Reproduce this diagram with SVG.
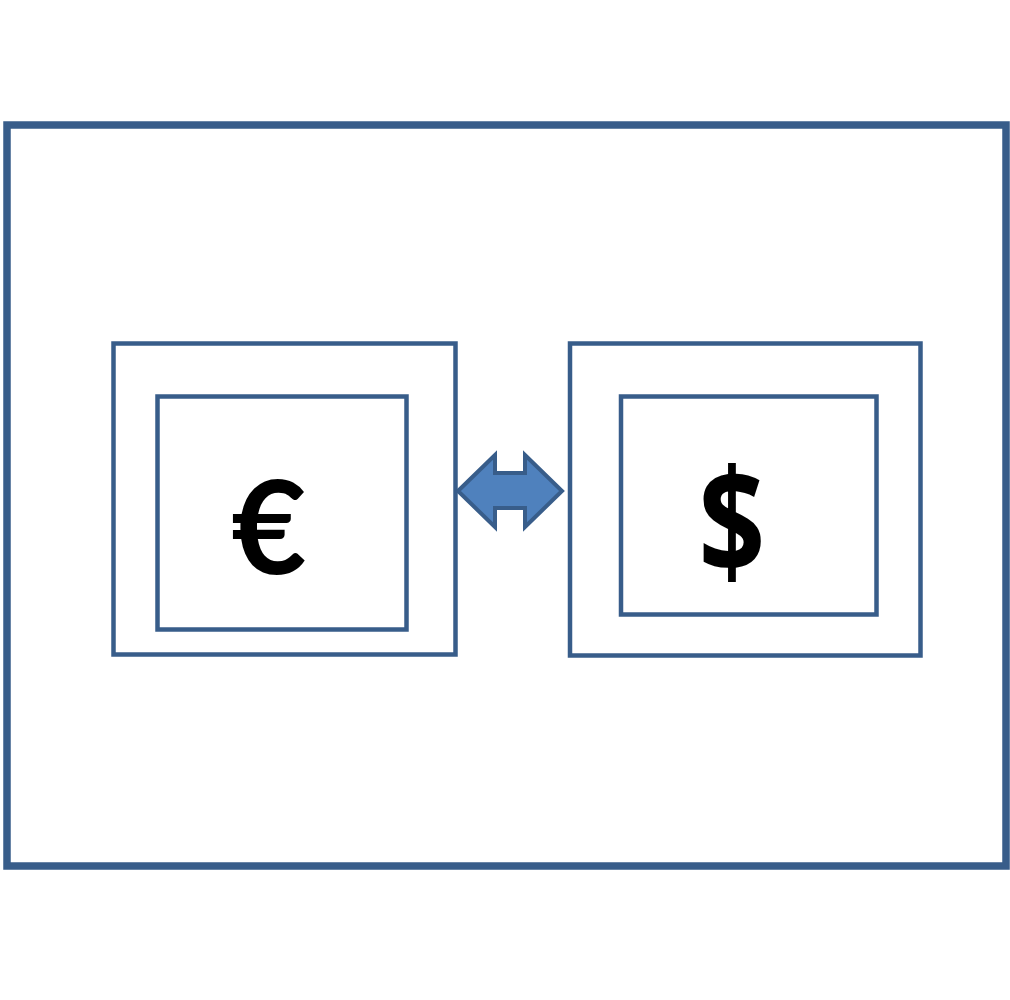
<svg xmlns="http://www.w3.org/2000/svg" width="1010" height="1000" viewBox="0 0 1010 1000">
<style>
.box{fill:none;stroke:#385D8A;stroke-width:4.5}
.big{fill:none;stroke:#385D8A;stroke-width:7.5}
.sym{font-weight:bold;fill:#000;text-anchor:middle}
.eur{font-family:Lato,"Open Sans",sans-serif}
.usd{font-family:"Open Sans","DejaVu Sans",sans-serif}
.arrow{fill:#4F81BD;stroke:#385D8A;stroke-width:4;stroke-linejoin:miter}
</style>
<rect width="1010" height="1000" fill="#fff"/>
<g id="container"><rect class="big" x="7" y="125" width="999" height="741"/></g>
<g id="euro-outer"><rect class="box" x="113.5" y="343.5" width="342" height="311"/></g>
<g id="euro"><rect class="box" x="157.5" y="396.5" width="249" height="233"/><text class="sym eur" x="269" y="574" font-size="130">€</text></g>
<g id="dollar-outer"><rect class="box" x="570" y="343.5" width="350.5" height="312"/></g>
<g id="dollar"><rect class="box" x="621" y="396.5" width="255.5" height="218"/><text class="sym usd" transform="translate(732,0) scale(0.8,1)" x="0" y="574" font-size="146">$</text></g>
<g id="connectors"><path class="arrow" d="M458,491 L495,455 L495,473 L525,473 L525,455 L562,491 L525,527 L525,508 L495,508 L495,527 Z"/></g>
</svg>
